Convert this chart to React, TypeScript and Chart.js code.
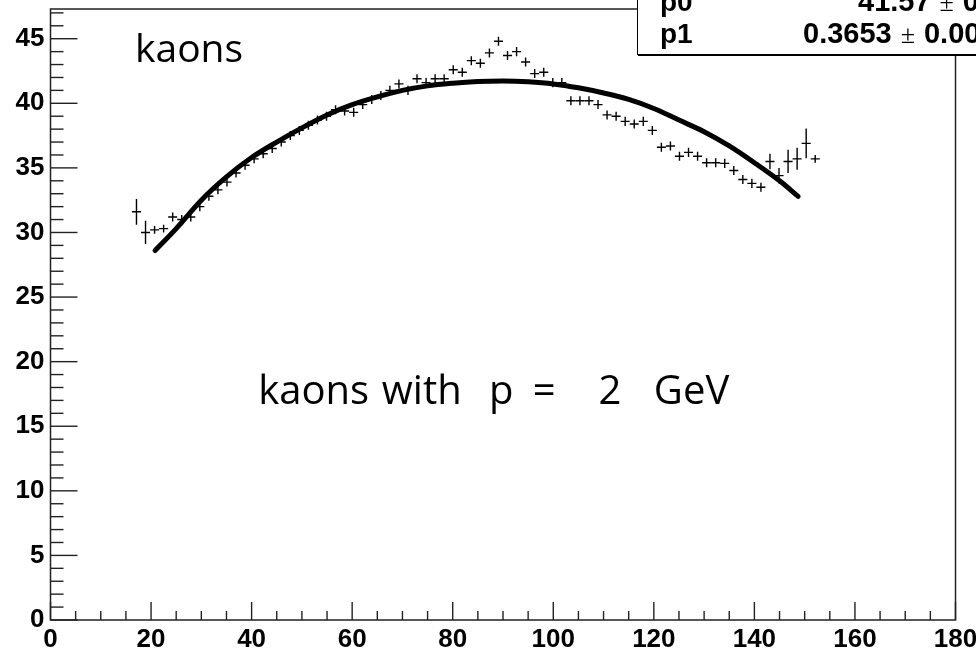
import React, { useEffect, useRef } from "react";
import { Chart, registerables } from "chart.js";

Chart.register(...registerables);

// ---------- data ----------
const binCenters = [
  17.1, 18.9, 20.7, 22.5, 24.3, 26.1, 27.9, 29.7, 31.5, 33.3,
  35.1, 36.9, 38.7, 40.5, 42.3, 44.1, 45.9, 47.7, 49.5, 51.3,
  53.1, 54.9, 56.7, 58.5, 60.3, 62.1, 63.9, 65.7, 67.5, 69.3,
  71.1, 72.9, 74.7, 76.5, 78.3, 80.1, 81.9, 83.7, 85.5, 87.3,
  89.1, 90.9, 92.7, 94.5, 96.3, 98.1, 99.9, 101.7, 103.5, 105.3,
  107.1, 108.9, 110.7, 112.5, 114.3, 116.1, 117.9, 119.7, 121.5, 123.3,
  125.1, 126.9, 128.7, 130.5, 132.3, 134.1, 135.9, 137.7, 139.5, 141.3,
  143.1, 144.9, 146.7, 148.5, 150.3, 152.1,
];
const counts = [
  31.6, 30.0, 30.2, 30.3, 31.2, 31.0, 31.2, 32.0, 32.8, 33.3,
  33.9, 34.6, 35.2, 35.7, 36.1, 36.5, 37.0, 37.5, 37.9, 38.3,
  38.7, 39.0, 39.5, 39.4, 39.3, 39.9, 40.3, 40.6, 41.0, 41.5,
  41.0, 41.9, 41.6, 41.9, 41.9, 42.6, 42.4, 43.3, 43.1, 43.9,
  44.8, 43.7, 44.0, 43.2, 42.3, 42.4, 41.6, 41.6, 40.2, 40.2,
  40.2, 39.9, 39.1, 39.0, 38.6, 38.4, 38.6, 37.9, 36.6, 36.7,
  35.9, 36.2, 35.9, 35.4, 35.4, 35.35, 34.8, 34.1, 33.8, 33.5,
  35.5, 34.4, 35.5, 35.7, 36.9, 35.7,
];
const errors = [
  1.0, 0.9, 0.3, 0.3, 0.35, 0.35, 0.35, 0.35, 0.35, 0.35,
  0.35, 0.35, 0.35, 0.35, 0.35, 0.35, 0.35, 0.35, 0.35, 0.35,
  0.35, 0.35, 0.35, 0.35, 0.35, 0.35, 0.35, 0.35, 0.35, 0.35,
  0.35, 0.35, 0.35, 0.35, 0.35, 0.35, 0.35, 0.35, 0.35, 0.35,
  0.35, 0.35, 0.35, 0.35, 0.35, 0.35, 0.35, 0.35, 0.35, 0.35,
  0.35, 0.35, 0.35, 0.35, 0.35, 0.35, 0.35, 0.35, 0.35, 0.35,
  0.35, 0.35, 0.35, 0.35, 0.35, 0.35, 0.35, 0.35, 0.35, 0.35,
  0.6, 0.6, 0.9, 0.85, 1.15, 0.3,
];
const binHalfWidth = 0.9;

const fitX = [20.8, 25, 30, 35, 40, 45, 50, 55, 60, 65, 70, 75, 80, 85, 90, 95, 100, 105, 110, 115, 120, 125, 130, 135, 140, 145, 148.7];
const fitY = [28.6, 30.3, 32.5, 34.3, 35.8, 37.0, 38.1, 39.1, 39.9, 40.5, 41.0, 41.35, 41.55, 41.68, 41.72, 41.66, 41.5, 41.2, 40.8, 40.3, 39.6, 38.7, 37.8, 36.7, 35.4, 34.0, 32.8];

const xTicks = [0, 20, 40, 60, 80, 100, 120, 140, 160, 180];
const yTicks = [0, 5, 10, 15, 20, 25, 30, 35, 40, 45];

const statNames = ["p0", "p1"];
const statValues = ["41.57", "0.3653"];
const statErrors = ["0.12", "0.0066"];

const titleLabel = "kaons";
const noteWords = ["kaons", "with", "p", "=", "2", "GeV"];

// ---------- style ----------
const LABEL_FONT = '"Liberation Sans", Arial, Helvetica, sans-serif';
const TEXT_FONT = '"Open Sans", "DejaVu Sans", sans-serif';

const crossesPlugin = {
  id: "crosses",
  beforeDatasetsDraw(chart: any) {
    const { ctx, scales } = chart;
    const xs = scales.x;
    const ys = scales.y;
    ctx.save();
    ctx.strokeStyle = "#000";
    ctx.lineWidth = 1.4;
    for (let i = 0; i < binCenters.length; i++) {
      const cx = xs.getPixelForValue(binCenters[i]);
      const cy = ys.getPixelForValue(counts[i]);
      const x0 = xs.getPixelForValue(binCenters[i] - binHalfWidth);
      const x1 = xs.getPixelForValue(binCenters[i] + binHalfWidth);
      const y0 = ys.getPixelForValue(counts[i] - errors[i]);
      const y1 = ys.getPixelForValue(counts[i] + errors[i]);
      ctx.beginPath();
      ctx.moveTo(x0, cy);
      ctx.lineTo(x1, cy);
      ctx.moveTo(cx, y0);
      ctx.lineTo(cx, y1);
      ctx.stroke();
    }
    ctx.restore();
  },
};

const framePlugin = {
  id: "frame",
  afterDraw(chart: any) {
    const { ctx, chartArea, scales } = chart;
    const { left, right, top, bottom } = chartArea;
    const xs = scales.x;
    const ys = scales.y;
    ctx.save();
    ctx.strokeStyle = "#222";
    ctx.lineWidth = 1.5;
    ctx.strokeRect(left, top, right - left, bottom - top);
    ctx.lineWidth = 1.4;
    // x ticks (inside)
    for (let v = xs.min; v <= xs.max + 1e-6; v += 5) {
      const px = xs.getPixelForValue(v);
      const len = Math.abs(v % 20) < 1e-6 ? 18 : 9;
      ctx.beginPath();
      ctx.moveTo(px, bottom);
      ctx.lineTo(px, bottom - len);
      ctx.stroke();
    }
    // y ticks (inside)
    for (let v = 0; v <= ys.max + 1e-6; v += 1) {
      const py = ys.getPixelForValue(v);
      const len = v % 5 === 0 ? 27 : 13;
      ctx.beginPath();
      ctx.moveTo(left, py);
      ctx.lineTo(left + len, py);
      ctx.stroke();
    }

    // annotation texts
    ctx.fillStyle = "#000";
    ctx.textBaseline = "alphabetic";
    ctx.textAlign = "left";
    ctx.font = `39px ${TEXT_FONT}`;
    ctx.fillText(titleLabel, xs.getPixelForValue(16.8), ys.getPixelForValue(43.2));

    ctx.font = `40px ${TEXT_FONT}`;
    const wordX = [41.3, 65.9, 87.2, 95.9, 109.0, 120.0];
    const baseY = ys.getPixelForValue(16.7);
    noteWords.forEach((w, i) => {
      ctx.fillText(w, xs.getPixelForValue(wordX[i]), baseY);
    });

    // stats box
    const bx = 637;
    const by = -5;
    const bw = 360;
    const bh = 59;
    ctx.fillStyle = "#fff";
    ctx.fillRect(bx, by, bw, bh);
    ctx.strokeStyle = "#000";
    ctx.lineWidth = 1;
    ctx.strokeRect(bx + 0.5, by + 0.5, bw, bh);
    ctx.fillStyle = "#000";
    ctx.fillRect(bx + 1, by + bh, bw, 2);

    const rowBase = [11, 43];
    const valX = [858, 803];
    for (let r = 0; r < statNames.length; r++) {
      ctx.font = `bold 28px ${LABEL_FONT}`;
      ctx.fillStyle = "#000";
      ctx.fillText(statNames[r], 660, rowBase[r]);
      ctx.font = `bold 29px ${LABEL_FONT}`;
      let x = valX[r];
      ctx.fillText(statValues[r], x, rowBase[r]);
      x += ctx.measureText(statValues[r]).width + 9;
      ctx.font = `26px "Liberation Serif", "Times New Roman", serif`;
      ctx.fillText("\u00b1", x, rowBase[r]);
      x += ctx.measureText("\u00b1").width + 9;
      ctx.font = `bold 29px ${LABEL_FONT}`;
      ctx.fillText(statErrors[r], x, rowBase[r]);
    }
    ctx.restore();
  },
};

export default function App() {
  const canvasRef = useRef<HTMLCanvasElement | null>(null);

  useEffect(() => {
    const canvas = canvasRef.current;
    if (!canvas) return;
    const chart = new Chart(canvas, {
      type: "scatter",
      data: {
        datasets: [
          {
            data: fitX.map((x, i) => ({ x, y: fitY[i] })),
            showLine: true,
            borderColor: "#000",
            backgroundColor: "#000",
            borderWidth: 5,
            pointRadius: 0,
            tension: 0.4,
            cubicInterpolationMode: "monotone",
            borderCapStyle: "round",
          } as any,
        ],
      },
      options: {
        responsive: false,
        animation: false,
        devicePixelRatio: 1,
        layout: { padding: { top: 9, right: 20.5, left: 0, bottom: 0 } },
        plugins: {
          legend: { display: false },
          tooltip: { enabled: false },
        },
        scales: {
          x: {
            type: "linear",
            min: 0,
            max: 180,
            grid: { display: false, drawTicks: false },
            border: { display: false },
            afterBuildTicks: (s: any) => {
              s.ticks = xTicks.map((v) => ({ value: v }));
            },
            afterFit: (s: any) => {
              s.height = 33;
              s.paddingLeft = 0;
              s.paddingRight = 0;
            },
            ticks: {
              color: "#000",
              padding: 4,
              maxRotation: 0,
              autoSkip: false,
              font: { family: LABEL_FONT, size: 26, weight: "bold" },
            },
          },
          y: {
            type: "linear",
            min: 0,
            max: 47.3,
            grid: { display: false, drawTicks: false },
            border: { display: false },
            afterBuildTicks: (s: any) => {
              s.ticks = yTicks.map((v) => ({ value: v }));
            },
            afterFit: (s: any) => {
              s.width = 50.5;
              s.paddingTop = 0;
              s.paddingBottom = 0;
            },
            ticks: {
              color: "#000",
              padding: 6,
              autoSkip: false,
              font: { family: LABEL_FONT, size: 26, weight: "bold" },
            },
          },
        },
      },
      plugins: [crossesPlugin, framePlugin],
    });
    return () => chart.destroy();
  }, []);

  return (
    <div style={{ position: "absolute", left: 0, top: 0, width: 976, height: 653, background: "#fff" }}>
      <canvas ref={canvasRef} width={976} height={653} style={{ display: "block" }} />
    </div>
  );
}
